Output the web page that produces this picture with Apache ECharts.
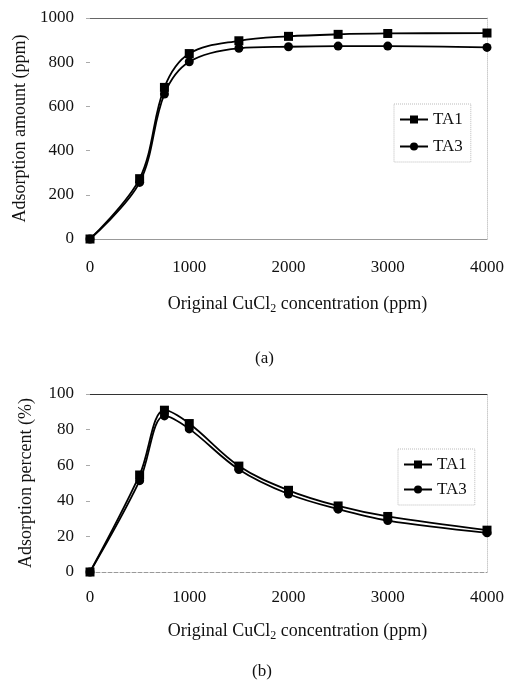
<!DOCTYPE html>
<html><head><meta charset="utf-8">
<script src="https://cdn.jsdelivr.net/npm/echarts@6/dist/echarts.min.js"></script>
<style>html,body{margin:0;padding:0;background:#fff}#c{width:508px;height:683px}</style>
</head><body><div id="c"></div>
<script>
const concentration = [0, 500, 750, 1000, 1500, 2000, 2500, 3000, 4000];
const ta1Amount = [0, 273, 686, 839, 897, 917, 926, 930, 932];
const ta3Amount = [0, 256, 656, 802, 863, 870, 873, 873, 867];
const ta1Percent = [0, 54.5, 90.9, 83.4, 59.5, 45.9, 37.1, 31.2, 23.5];
const ta3Percent = [0, 51.3, 87.7, 80.4, 57.6, 43.8, 35.3, 28.9, 22.0];
const xTicks = [0, 1000, 2000, 3000, 4000];
const seriesNames = ['TA1', 'TA3'];

const FONT = 'Liberation Serif';
const pairs = (ys) => concentration.map((x, i) => [x, ys[i]]);
const xName = 'Original CuCl{sub|2} concentration (ppm)';
const nameStyle = {
  fontFamily: FONT, fontSize: 18, color: '#111',
  rich: { sub: { fontFamily: FONT, fontSize: 12, color: '#111', verticalAlign: 'bottom', padding: [9, 0, 0, 0] } }
};
const lbl = { fontFamily: FONT, fontSize: 17, color: '#111', formatter: (v) => String(v) };

function xAxisFor(gi, labelMargin, nameGap, lineColor, lineType) {
  return {
    type: 'value', gridIndex: gi, min: xTicks[0], max: xTicks[xTicks.length - 1], interval: 1000,
    axisLine: { show: true, onZero: false, lineStyle: { color: lineColor, width: 1, type: lineType } },
    axisTick: { show: false }, splitLine: { show: false },
    axisLabel: Object.assign({ margin: labelMargin }, lbl),
    name: xName, nameLocation: 'middle', nameGap: nameGap,
    nameTextStyle: Object.assign({ padding: [0, 0, 0, 18] }, nameStyle)
  };
}
function topAxis(gi, color) {
  return {
    type: 'value', gridIndex: gi, position: 'top', min: 0, max: 4000,
    axisLine: { show: true, onZero: false, lineStyle: { color: color, width: 1 } },
    axisTick: { show: false }, axisLabel: { show: false }, splitLine: { show: false }
  };
}
function yAxisFor(gi, max, interval, name, nameGap) {
  return {
    type: 'value', gridIndex: gi, min: 0, max: max, interval: interval,
    axisLine: { show: false, onZero: false },
    axisTick: { show: true, length: 4, lineStyle: { color: '#aaa' } },
    splitLine: { show: false },
    axisLabel: Object.assign({ margin: 16 }, lbl),
    name: name, nameLocation: 'middle', nameGap: nameGap, nameRotate: 90,
    nameTextStyle: nameStyle
  };
}
function rightAxis(gi, max) {
  return {
    type: 'value', gridIndex: gi, position: 'right', min: 0, max: max,
    axisLine: { show: true, onZero: false, lineStyle: { color: '#ccc', type: 'dotted' } },
    axisTick: { show: false }, axisLabel: { show: false }, splitLine: { show: false }
  };
}
function ser(name, ys, xi, yi, symbol) {
  return {
    name: name, type: 'line', xAxisIndex: xi, yAxisIndex: yi, data: pairs(ys),
    smooth: 0.35, symbol: symbol, symbolSize: 9, showSymbol: true,
    lineStyle: { color: '#000', width: 1.8 }, itemStyle: { color: '#000' },
    z: name === 'TA1' ? 3 : 2
  };
}
function legendFor(left, top, gap) {
  return {
    orient: 'vertical', left: left, top: top, data: seriesNames,
    itemWidth: 28, itemHeight: 10, itemGap: gap,
    textStyle: { fontFamily: FONT, fontSize: 17, color: '#111' },
    borderColor: '#bbb', borderWidth: 1, borderType: 'dotted', padding: [7, 8, 7, 5]
  };
}

const chart = echarts.init(document.getElementById('c'), null, { renderer: 'canvas' });
chart.setOption({
  animation: false,
  backgroundColor: '#fff',
  grid: [
    { left: 90, right: 21, top: 18, height: 221 },
    { left: 90, right: 21, top: 394, height: 178 }
  ],
  xAxis: [
    xAxisFor(0, 20, 55, '#999', 'solid'),
    xAxisFor(1, 17, 49, '#999', 'dashed'),
    topAxis(0, '#666'),
    topAxis(1, '#333')
  ],
  yAxis: [
    yAxisFor(0, 1000, 200, 'Adsorption amount (ppm)', 60),
    yAxisFor(1, 100, 20, 'Adsorption percent (%)', 55),
    rightAxis(0, 1000),
    rightAxis(1, 100)
  ],
  legend: [legendFor(394, 104, 10), legendFor(398, 449, 8)],
  graphic: [
    { type: 'text', left: 264 - 9, top: 350, style: { text: '(a)', font: '17px "Liberation Serif"', fill: '#111' } },
    { type: 'text', left: 261 - 9, top: 663, style: { text: '(b)', font: '17px "Liberation Serif"', fill: '#111' } }
  ],
  series: [
    ser('TA3', ta3Amount, 0, 0, 'circle'),
    ser('TA1', ta1Amount, 0, 0, 'rect'),
    ser('TA3', ta3Percent, 1, 1, 'circle'),
    ser('TA1', ta1Percent, 1, 1, 'rect')
  ]
});
</script></body></html>
